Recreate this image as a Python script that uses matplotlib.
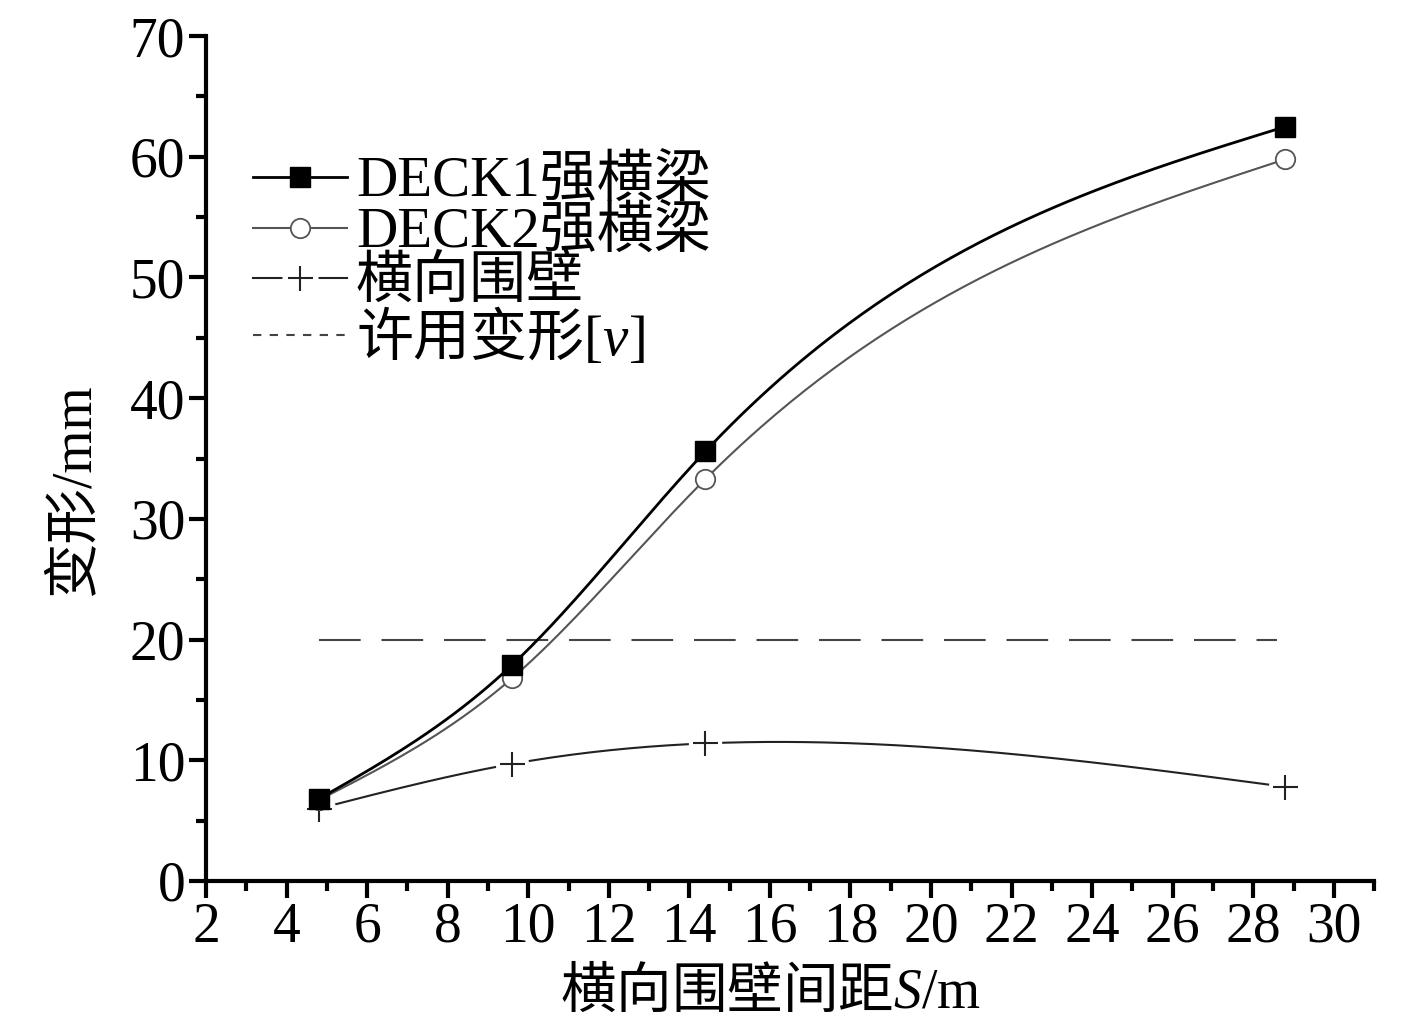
import numpy as np
import matplotlib
matplotlib.use("Agg")
import matplotlib.pyplot as plt
from matplotlib.lines import Line2D
from matplotlib.legend_handler import HandlerTuple
from matplotlib.ticker import MultipleLocator

plt.rcParams['mathtext.fontset'] = 'custom'
plt.rcParams['mathtext.rm'] = 'Liberation Serif'
plt.rcParams['mathtext.sf'] = 'Liberation Serif'
plt.rcParams['mathtext.it'] = 'Liberation Serif:italic'
FAM = ['Liberation Serif', 'Noto Sans CJK SC']
CJK_FIRST = ['Noto Sans CJK SC', 'Liberation Serif']
plt.rcParams['font.family'] = FAM

# ---- data ----
spacing = [4.8, 9.6, 14.4, 28.8]
deck1 = [6.8, 17.9, 35.6, 62.5]
deck2 = [6.7, 16.8, 33.3, 59.8]
bulkhead = [6.0, 9.7, 11.4, 7.8]
allow_value = 20.0
labels = ['DECK1强横梁', 'DECK2强横梁', '横向围壁',
          '许用变形$\\mathsf{[}\\mathit{v}\\mathsf{]}$']
xlabel = '横向围壁间距$\\mathit{S}\\mathsf{/m}$'
ylabel = '变形/mm'


def natural_spline(x, y, n=200):
    x = np.asarray(x, float); y = np.asarray(y, float)
    m = len(x)
    h = np.diff(x)
    A = np.zeros((m, m)); b = np.zeros(m)
    A[0, 0] = 1; A[-1, -1] = 1
    for i in range(1, m - 1):
        A[i, i - 1] = h[i - 1]
        A[i, i] = 2 * (h[i - 1] + h[i])
        A[i, i + 1] = h[i]
        b[i] = 3 * ((y[i + 1] - y[i]) / h[i] - (y[i] - y[i - 1]) / h[i - 1])
    c = np.linalg.solve(A, b)
    xs = np.linspace(x[0], x[-1], n)
    ys = np.empty_like(xs)
    for k, xv in enumerate(xs):
        i = min(np.searchsorted(x, xv, side='right') - 1, m - 2)
        dx = xv - x[i]
        bi = (y[i + 1] - y[i]) / h[i] - h[i] * (2 * c[i] + c[i + 1]) / 3
        di = (c[i + 1] - c[i]) / (3 * h[i])
        ys[k] = y[i] + bi * dx + c[i] * dx ** 2 + di * dx ** 3
    return xs, ys


fig = plt.figure(figsize=(14.17, 10.31), dpi=100)
ax = fig.add_axes([0.1454, 0.1455, 0.8243, 0.8195])

gray = '#555555'
# bulkhead curve with gaps at markers
xs, ys = natural_spline(spacing, bulkhead)
ax.plot(xs, ys, color='#222222', lw=1.5, zorder=2)
ax.plot(spacing, bulkhead, ls='none', marker='o', ms=24, mfc='white', mec='none', zorder=3)
ax.plot(spacing, bulkhead, ls='none', marker='+', ms=18, mew=1.5, color='#222222', zorder=4)

# allowable line
ax.plot([spacing[0], spacing[-1] - 0.2], [allow_value, allow_value], color='#444444', lw=1.5,
        dashes=(20, 10), zorder=2)

xs, ys = natural_spline(spacing, deck2)
ax.plot(xs, ys, color=gray, lw=1.5, zorder=5)
ax.plot(spacing, deck2, ls='none', marker='o', ms=14, mfc='white', mec=gray, mew=1.3, zorder=6)

xs, ys = natural_spline(spacing, deck1)
ax.plot(xs, ys, color='black', lw=2, zorder=7)
ax.plot(spacing, deck1, ls='none', marker='s', ms=14, mfc='black', mec='black', zorder=8)

ax.set_xlim(2, 31)
ax.set_ylim(0, 70)
ax.xaxis.set_major_locator(MultipleLocator(2))
ax.xaxis.set_minor_locator(MultipleLocator(1))
ax.yaxis.set_major_locator(MultipleLocator(10))
ax.yaxis.set_minor_locator(MultipleLocator(5))
for s in ['top', 'right']:
    ax.spines[s].set_visible(False)
for s in ['left', 'bottom']:
    ax.spines[s].set_linewidth(3)
ax.tick_params(which='major', direction='out', length=12, width=3, labelsize=40, pad=3)
ax.tick_params(which='minor', direction='out', length=7, width=3)
for t in ax.get_xticklabels() + ax.get_yticklabels():
    t.set_fontfamily('Liberation Serif')

ax.set_xlabel(xlabel, fontsize=40, family=CJK_FIRST)
ax.set_ylabel(ylabel, fontsize=40)
ax.xaxis.set_label_coords(0.483, -0.098)
ax.yaxis.set_label_coords(-0.09, 0.463)

h1 = Line2D([], [], color='black', lw=2, marker='s', ms=14, mfc='black')
h2 = Line2D([], [], color=gray, lw=1.5, marker='o', ms=14, mfc='white', mec=gray, mew=1.3)
h3a = Line2D([], [], color='#222222', lw=1.5)
h3b = Line2D([], [], ls='none', marker='o', ms=26, mfc='white', mec='none')
h3c = Line2D([], [], ls='none', marker='+', ms=18, mew=1.5, color='#222222')
h4 = Line2D([], [], color='#444444', lw=1.5, dashes=(4, 4))
leg = ax.legend([h1, h2, (h3a, h3b, h3c), h4], labels,
                handler_map={tuple: HandlerTuple(ndivide=1, pad=0)},
                loc='upper left', bbox_to_anchor=(0.021, 0.885), frameon=False,
                fontsize=41, handlelength=1.65, handletextpad=0.15, labelspacing=-0.05,
                borderaxespad=0)
leg.get_texts()[3].set_fontfamily(CJK_FIRST)

fig.savefig('out.png', dpi=100)
